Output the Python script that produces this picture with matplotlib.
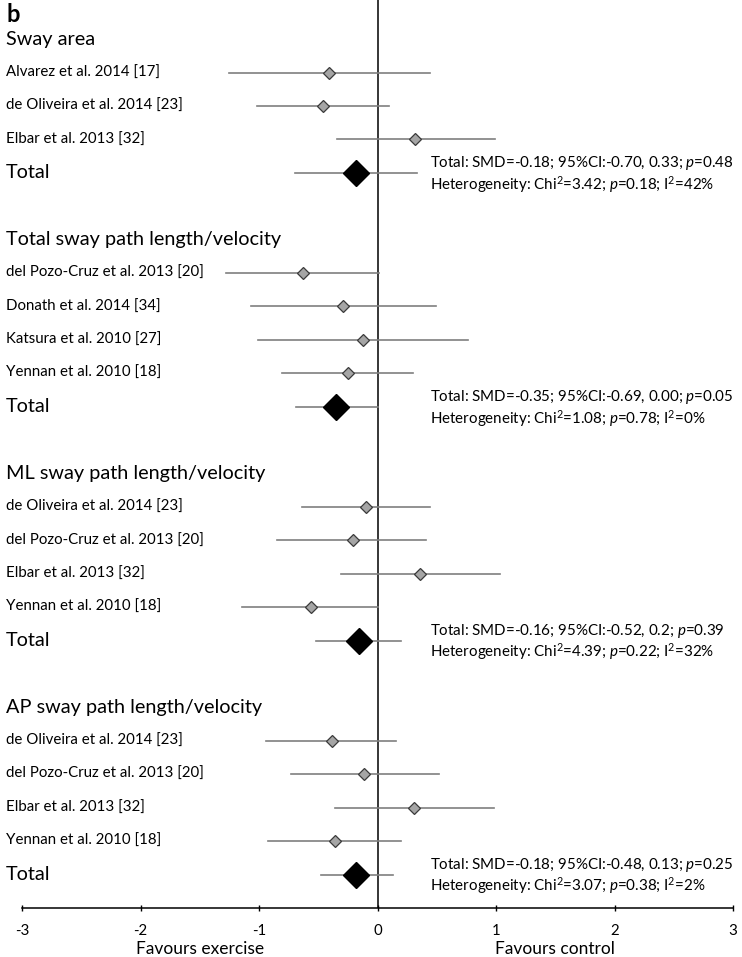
import matplotlib.pyplot as plt
import matplotlib.transforms as mtransforms

plt.rcParams['font.family'] = ['Lato', 'DejaVu Sans']
plt.rcParams['mathtext.fontset'] = 'custom'
plt.rcParams['mathtext.rm'] = 'Lato'
plt.rcParams['mathtext.it'] = 'Lato:italic'
plt.rcParams['axes.unicode_minus'] = False

section_titles = ["Sway area", "Total sway path length/velocity",
                  "ML sway path length/velocity", "AP sway path length/velocity"]

sway_area_studies = ["Alvarez et al. 2014 [17]", "de Oliveira et al. 2014 [23]",
                     "Elbar et al. 2013 [32]"]
sway_area_smd = [-0.41, -0.46, 0.32]
sway_area_lo = [-1.25, -1.02, -0.34]
sway_area_hi = [0.44, 0.10, 0.99]

total_path_studies = ["del Pozo-Cruz et al. 2013 [20]", "Donath et al. 2014 [34]",
                      "Katsura et al. 2010 [27]", "Yennan et al. 2010 [18]"]
total_path_smd = [-0.63, -0.29, -0.12, -0.25]
total_path_lo = [-1.28, -1.07, -1.01, -0.81]
total_path_hi = [0.01, 0.49, 0.76, 0.30]

ml_path_studies = ["de Oliveira et al. 2014 [23]", "del Pozo-Cruz et al. 2013 [20]",
                   "Elbar et al. 2013 [32]", "Yennan et al. 2010 [18]"]
ml_path_smd = [-0.10, -0.21, 0.36, -0.56]
ml_path_lo = [-0.64, -0.85, -0.31, -1.14]
ml_path_hi = [0.44, 0.41, 1.03, 0.00]

ap_path_studies = ["de Oliveira et al. 2014 [23]", "del Pozo-Cruz et al. 2013 [20]",
                   "Elbar et al. 2013 [32]", "Yennan et al. 2010 [18]"]
ap_path_smd = [-0.38, -0.11, 0.31, -0.36]
ap_path_lo = [-0.94, -0.73, -0.36, -0.92]
ap_path_hi = [0.16, 0.52, 0.98, 0.20]

total_smd = [-0.18, -0.35, -0.16, -0.18]
total_lo = [-0.70, -0.69, -0.52, -0.48]
total_hi = [0.33, 0.00, 0.20, 0.13]

total_text = ["Total: SMD=-0.18; 95%CI:-0.70, 0.33; $\\mathit{p}$=0.48",
              "Total: SMD=-0.35; 95%CI:-0.69, 0.00; $\\mathit{p}$=0.05",
              "Total: SMD=-0.16; 95%CI:-0.52, 0.2; $\\mathit{p}$=0.39",
              "Total: SMD=-0.18; 95%CI:-0.48, 0.13; $\\mathit{p}$=0.25"]
het_text = ["Heterogeneity: Chi$^2$=3.42; $\\mathit{p}$=0.18; I$^2$=42%",
            "Heterogeneity: Chi$^2$=1.08; $\\mathit{p}$=0.78; I$^2$=0%",
            "Heterogeneity: Chi$^2$=4.39; $\\mathit{p}$=0.22; I$^2$=32%",
            "Heterogeneity: Chi$^2$=3.07; $\\mathit{p}$=0.38; I$^2$=2%"]

sections = [
    (sway_area_studies, sway_area_smd, sway_area_lo, sway_area_hi),
    (total_path_studies, total_path_smd, total_path_lo, total_path_hi),
    (ml_path_studies, ml_path_smd, ml_path_lo, ml_path_hi),
    (ap_path_studies, ap_path_smd, ap_path_lo, ap_path_hi),
]

fig = plt.figure(figsize=(7.42, 9.57), dpi=100)
ax = fig.add_axes([22 / 742, 49 / 957, 711 / 742, 908 / 957])
lab = mtransforms.blended_transform_factory(fig.transFigure, ax.transData)
lx = 6 / 742

line_col = '#7f7f7f'
row = 0
for i, (names, smd, lo, hi) in enumerate(sections):
    fig.text(lx, row, section_titles[i], transform=lab, fontsize=14.3, va='center')
    row += 1
    for name, m, a, b in zip(names, smd, lo, hi):
        fig.text(lx, row, name, transform=lab, fontsize=10.8, va='center')
        ax.plot([a, b], [row, row], color=line_col, lw=1.2, zorder=2)
        ax.plot(m, row, marker='D', ms=5.8, mfc='#a5a5a5', mec='#3a3a3a',
                mew=0.9, zorder=3)
        row += 1
    fig.text(lx, row, "Total", transform=lab, fontsize=14.3, va='center')
    ax.plot([total_lo[i], total_hi[i]], [row, row], color=line_col, lw=1.2, zorder=2)
    ax.plot(total_smd[i], row, marker='D', ms=13.5, mfc='black', mec='black', zorder=3)
    ax.text(0.44, row - 0.3, total_text[i], fontsize=10.9, va='center')
    ax.text(0.44, row + 0.34, het_text[i], fontsize=10.9, va='center')
    row += 2

ax.axvline(0, color='black', lw=1.1, zorder=1)
ax.set_xlim(-3, 3)
ax.set_ylim(row - 1, -1.17)
ax.set_xticks([-3, -2, -1, 0, 1, 2, 3])
ax.tick_params(axis='x', direction='inout', length=5, width=1, labelsize=10.8, pad=9)
ax.set_yticks([])
for s in ['left', 'right', 'top']:
    ax.spines[s].set_visible(False)
ax.spines['bottom'].set_linewidth(1.1)

xb = mtransforms.blended_transform_factory(ax.transData, ax.transAxes)
ax.text(-1.5, -0.045, "Favours exercise", transform=xb, fontsize=12.5,
        ha='center', va='center')
ax.text(1.5, -0.045, "Favours control", transform=xb, fontsize=12.5,
        ha='center', va='center')

fig.text(lx, 1 - 14 / 957, "b", fontsize=17, fontweight='bold', va='center')

fig.savefig("out.png", dpi=100)
